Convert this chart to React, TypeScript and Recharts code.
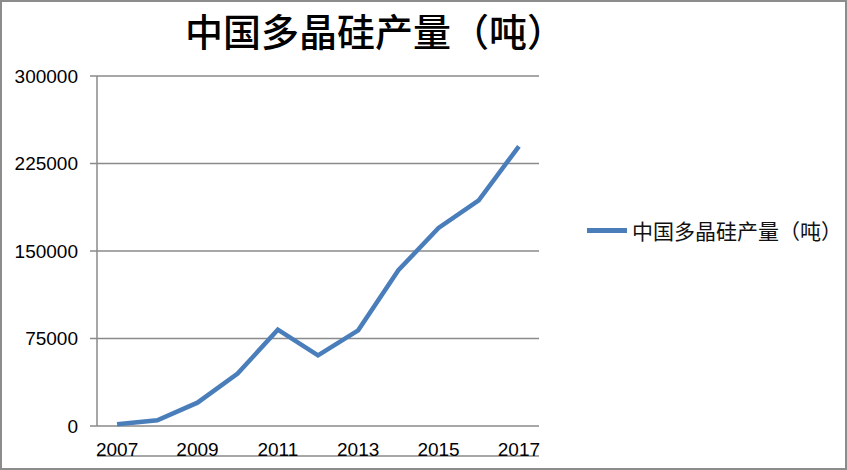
import { CartesianGrid, Line, LineChart, XAxis, YAxis } from "recharts";

const years = ["2007", "2008", "2009", "2010", "2011", "2012", "2013", "2014", "2015", "2016", "2017"];
const output = [1450, 4900, 20000, 44900, 82600, 60600, 82000, 133500, 169700, 193500, 239700];
const yTicks = [0, 75000, 150000, 225000, 300000];
const bandTicks = [0, 1, 2, 3, 4, 5, 6, 7, 8, 9, 10, 11];

const seriesName = "中国多晶硅产量（吨）";
const lineColor = "#4a7ebb";
const gridColor = "#8a8a8a";
const font = "'Liberation Sans', 'Noto Sans CJK SC', sans-serif";

const data = years.map((y, i) => ({ year: y, value: output[i] }));

function LegendBox() {
  return (
    <div
      style={{
        position: "absolute", left: 585, top: 216, display: "flex", alignItems: "center",
        fontFamily: "'Noto Sans CJK SC', sans-serif", fontSize: 21, lineHeight: "24px", color: "#111",
      }}
    >
      <div style={{ width: 40, height: 5, background: lineColor, marginRight: 5 }} />
      <span>{seriesName}</span>
    </div>
  );
}

export default function App() {
  return (
    <div
      style={{
        position: "absolute", left: 0, top: 0, width: 847, height: 470,
        boxSizing: "border-box", border: "2px solid #8c8c8c", background: "#fff",
      }}
    >
      <div
        style={{
          position: "absolute", left: 0, width: 746, top: 9, textAlign: "center", lineHeight: "38px",
          fontFamily: "'Noto Sans CJK SC', sans-serif", fontSize: 38, fontWeight: 500, color: "#000",
        }}
      >
        {seriesName}
      </div>
      <LineChart
        width={843}
        height={466}
        data={data}
        style={{ position: "absolute", left: -2, top: -2 }}
        margin={{ top: 76, right: 304, bottom: 9, left: 0 }}
      >
        <CartesianGrid horizontal vertical={false} stroke={gridColor} strokeWidth={1.5} />
        <XAxis
          xAxisId="band"
          type="number"
          domain={[0, 11]}
          ticks={bandTicks}
          allowDataOverflow
          tick={false}
          tickSize={6}
          tickLine={{ stroke: gridColor, strokeWidth: 1.5 }}
          axisLine={{ stroke: gridColor, strokeWidth: 1.5 }}
          height={1}
        />
        <XAxis
          dataKey="year"
          scale="band"
          interval={1}
          tickLine={false}
          axisLine={false}
          tickMargin={11}
          height={30}
          tick={{ fill: "#000", fontSize: 19, fontFamily: font }}
        />
        <YAxis
          domain={[0, 300000]}
          ticks={yTicks}
          width={97}
          tickSize={7}
          tickMargin={12}
          tickLine={{ stroke: gridColor, strokeWidth: 1.5 }}
          axisLine={{ stroke: gridColor, strokeWidth: 1.5 }}
          tick={{ fill: "#000", fontSize: 19, fontFamily: font }}
        />
        <Line
          dataKey="value"
          name={seriesName}
          stroke={lineColor}
          strokeWidth={4.5}
          dot={false}
          activeDot={false}
          type="linear"
          isAnimationActive={false}
        />
      </LineChart>
      <LegendBox />
    </div>
  );
}
